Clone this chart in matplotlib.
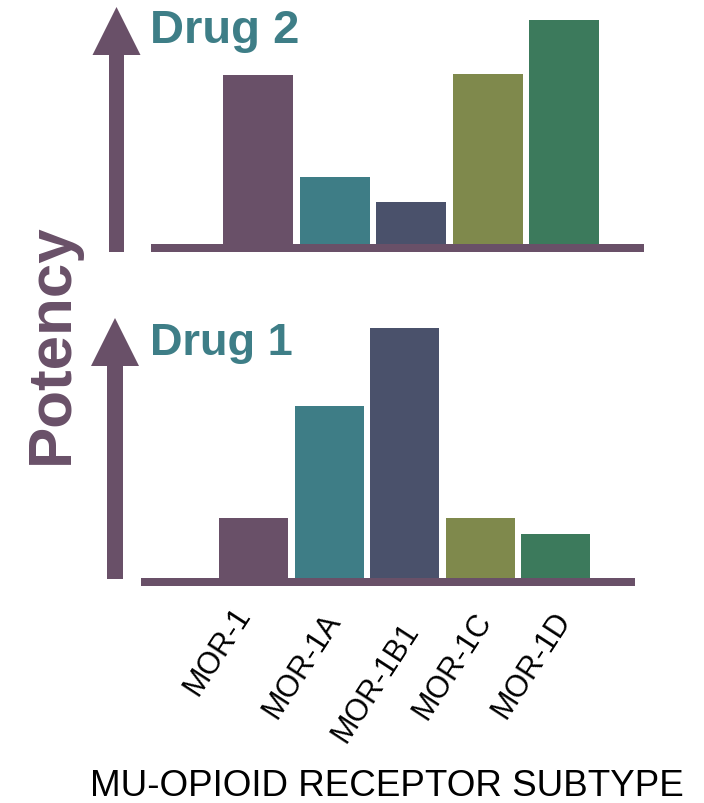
import matplotlib
matplotlib.use('Agg')
import matplotlib.pyplot as plt
from matplotlib.patches import FancyArrow
from matplotlib.transforms import ScaledTranslation

plt.rcParams['font.family'] = ['Liberation Sans', 'DejaVu Sans']

# ---- data ----
subtypes = ['MOR-1', 'MOR-1A', 'MOR-1B1', 'MOR-1C', 'MOR-1D']
drug2 = [3.38, 1.34, 0.84, 3.40, 4.48]
drug1 = [1.20, 3.44, 5.00, 1.20, 0.88]
bar_colors = ['#695068', '#3e7d86', '#4a516b', '#7f894c', '#3c7a5c']
panel_titles = ['Drug 2', 'Drug 1']
ylabel = 'Potency'
xlabel = 'MU-OPIOID RECEPTOR SUBTYPE'

PURPLE = '#695068'
TEAL = '#3e7e87'

W, H = 704, 804
fig = plt.figure(figsize=(W / 100, H / 100), dpi=100)


def px_axes(x0, ytop, x1, ybot, **kw):
    return fig.add_axes([x0 / W, 1 - ybot / H, (x1 - x0) / W, (ybot - ytop) / H], **kw)


# overlay for arrows and texts (pixel coordinates, origin top-left)
ov = px_axes(0, 0, W, H, zorder=0)
ov.set_xlim(0, W)
ov.set_ylim(H, 0)
ov.axis('off')

# panel layouts: (left px, right px, top px, baseline px, first center px, step px, bar width px)
layouts = [
    (151, 644, 0, 245, 258.0, 76.5, 70),
    (141, 635, 300, 579, 253.5, 75.5, 69),
]
values = [drug2, drug1]
scale = 50.0  # px per unit

axes = []
for (x0, x1, yt, yb, c0, step, bw), vals in zip(layouts, values):
    ax = px_axes(x0, yt, x1, yb, zorder=2)
    ax.set_facecolor('none')
    ax.bar(range(len(subtypes)), vals, width=bw / step, color=bar_colors, linewidth=0)
    ax.set_xlim((x0 - c0) / step, (x1 - c0) / step)
    ax.set_ylim(0, (yb - yt) / scale)
    for s in ['top', 'right', 'left']:
        ax.spines[s].set_visible(False)
    ax.spines['bottom'].set_color(PURPLE)
    ax.spines['bottom'].set_linewidth(8 * 72 / 100)
    ax.spines['bottom'].set_position(('outward', 4 * 72 / 100))
    ax.spines['bottom'].set_capstyle('butt')
    ax.set_xticks([])
    ax.set_yticks([])
    axes.append(ax)

# arrows
for x, ybot, ytip, w in [(116.5, 253, 8, 15), (115, 580, 319, 16)]:
    ov.add_patch(FancyArrow(x, ybot, 0, ytip - ybot, width=w, head_width=48,
                            head_length=48, length_includes_head=True,
                            color=PURPLE, linewidth=0))

# panel titles
ov.text(150, 43, panel_titles[0], fontsize=34, fontweight='bold', color=TEAL,
        ha='left', va='baseline')
ov.text(150, 355, panel_titles[1], fontsize=32.5, fontweight='bold', color=TEAL,
        ha='left', va='baseline')

# y label
ov.text(68, 343.5, ylabel, fontsize=44.6, fontweight='bold', color=PURPLE,
        rotation=90, rotation_mode='anchor', ha='center', va='baseline')

# x tick labels under the bottom panel
axb = axes[1]
label_offsets = [(-35.5, 72), (-27, 87), (-28.5, 104), (-27, 87), (-23.5, 86)]
for i, (lab, (dx, dy)) in enumerate(zip(subtypes, label_offsets)):
    tr = axb.transData + ScaledTranslation(dx / 100, -dy / 100, fig.dpi_scale_trans)
    axb.text(i, 0, lab, transform=tr, rotation=57, ha='center', va='center',
             fontsize=22, color='black', clip_on=False)

# x axis title
ov.text(387, 796, xlabel, fontsize=26.5, color='black', ha='center', va='baseline')

fig.savefig('out.png', dpi=100)
